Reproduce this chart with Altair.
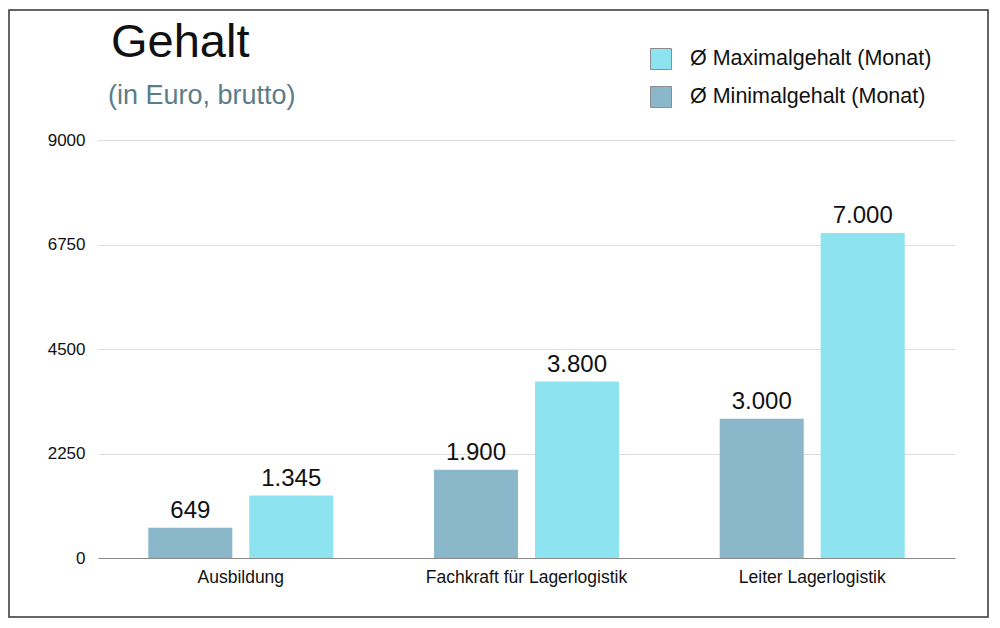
import altair as alt
import pandas as pd

categories = ["Ausbildung", "Fachkraft für Lagerlogistik", "Leiter Lagerlogistik"]
series_names = ["Ø Maximalgehalt (Monat)", "Ø Minimalgehalt (Monat)"]
max_vals = [1345, 3800, 7000]
min_vals = [649, 1900, 3000]
y_ticks = [0, 2250, 4500, 6750, 9000]
colors = ["#8DE3F0", "#8AB7CA"]
title_text = "Gehalt"
subtitle_text = "(in Euro, brutto)"

rows = []
for c, mn, mx in zip(categories, min_vals, max_vals):
    rows.append({"Beruf": c, "Serie": series_names[1], "Wert": mn})
    rows.append({"Beruf": c, "Serie": series_names[0], "Wert": mx})
df = pd.DataFrame(rows)
df["Label"] = df["Wert"].map(lambda v: f"{v:,}".replace(",", "."))

FONT = "Liberation Sans"

x_enc = alt.X("Beruf:N", sort=categories, title=None,
              scale=alt.Scale(paddingInner=0.3525, paddingOuter=0.176),
              axis=alt.Axis(labelAngle=0, labelFontSize=17.5, labelColor="#111",
                            labelFont=FONT, ticks=False, domainColor="#8a8a8a",
                            domainWidth=1, labelPadding=10, grid=False,
                            labelLimit=400))
xoff = alt.XOffset("Serie:N", sort=[series_names[1], series_names[0]],
                   scale=alt.Scale(paddingInner=0.168, paddingOuter=0))
y_enc = alt.Y("Wert:Q", title=None,
              scale=alt.Scale(domain=[0, 9000], nice=False),
              axis=alt.Axis(values=y_ticks, format="d", labelFontSize=17,
                            labelColor="#111", labelFont=FONT, ticks=False,
                            domain=False, gridColor="#dcdcdc", labelPadding=13))

bars = alt.Chart(df).mark_bar().encode(
    x=x_enc, xOffset=xoff, y=y_enc,
    color=alt.Color("Serie:N", scale=alt.Scale(domain=series_names, range=colors),
                    legend=alt.Legend(title=None, orient="none", legendX=552, legendY=-92,
                                      symbolType="square", symbolSize=440,
                                      symbolStrokeColor="#8c8c8c", symbolStrokeWidth=1,
                                      symbolOpacity=1,
                                      labelFontSize=21.5, labelFont=FONT, labelColor="#111",
                                      labelOffset=18, rowPadding=12, labelLimit=400)),
)

labels = alt.Chart(df).mark_text(baseline="bottom", dy=-5, fontSize=24, font=FONT,
                                 color="#111").encode(
    x=alt.X("Beruf:N", sort=categories), xOffset=xoff, y="Wert:Q", text="Label:N")

frame = alt.Chart(pd.DataFrame({"a": [0]})).mark_rect(
    fill=None, stroke="#333333", strokeWidth=1.5).encode(
    x=alt.value(-89), x2=alt.value(890), y=alt.value(-130), y2=alt.value(477))

title_df = pd.DataFrame({"t": [title_text]})
sub_df = pd.DataFrame({"t": [subtitle_text]})
title = alt.Chart(title_df).mark_text(align="left", baseline="alphabetic", fontSize=47,
                                      font=FONT, color="#111").encode(
    x=alt.value(13), y=alt.value(-83), text="t:N")
subtitle = alt.Chart(sub_df).mark_text(align="left", baseline="alphabetic", fontSize=27,
                                       font=FONT, color="#5b7d89").encode(
    x=alt.value(10), y=alt.value(-36), text="t:N")

chart = alt.layer(bars, labels, frame, title, subtitle).properties(
    width=857, height=418,
    background="white",
    autosize=alt.AutoSizeParams(type="none"),
    padding={"left": 90, "top": 132, "right": 37, "bottom": 62},
).configure_view(stroke=None)

chart.save("out.html", embed_options={"renderer": "svg", "actions": False})
